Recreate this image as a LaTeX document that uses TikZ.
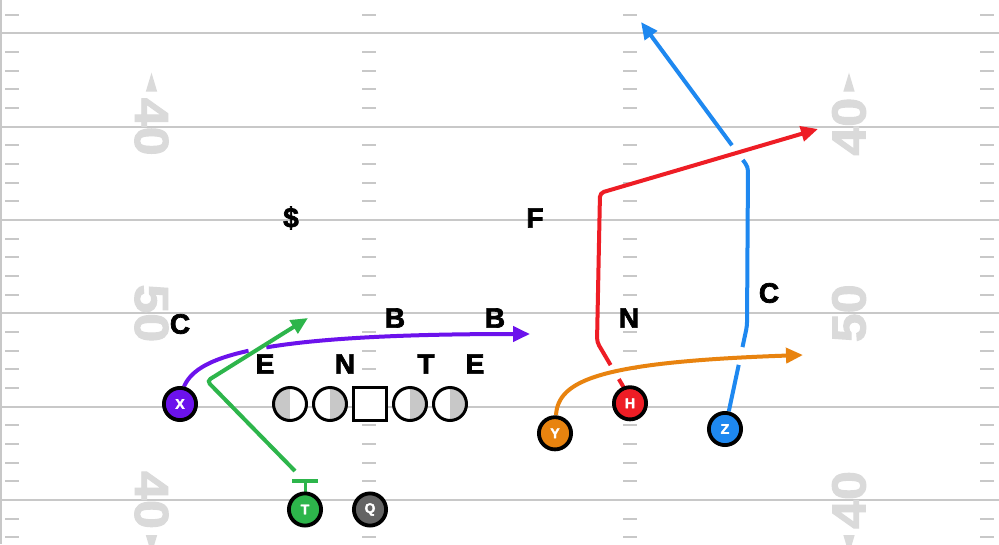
\documentclass[tikz,border=0pt]{standalone}
\usepackage{fontspec}
\setmainfont{Liberation Sans}
\newfontfamily\heavyfont{Liberation Sans}[BoldFeatures={FakeBold=2.5}]
\newfontfamily\numfont{Liberation Sans}[BoldFeatures={FakeBold=2}]
\usetikzlibrary{arrows.meta,calc}
\definecolor{yard}{HTML}{C8C8C8}
\definecolor{numc}{HTML}{DADADA}
\definecolor{halfgray}{HTML}{C8C8C8}
\definecolor{cpurple}{HTML}{6C12EC}
\definecolor{cgreen}{HTML}{2DB54B}
\definecolor{cgray}{HTML}{646464}
\definecolor{corange}{HTML}{E8830F}
\definecolor{cred}{HTML}{EE1D25}
\definecolor{cblue}{HTML}{1E88F0}
\tikzset{
  yardline/.style={draw=yard, line width=2pt},
  hashmark/.style={draw=yard, line width=2pt},
  fieldnum/.style={text=numc, font=\numfont\fontsize{52}{52}\selectfont\bfseries, inner sep=0pt, xscale=0.92},
  numarrow/.style={fill=numc, draw=none},
  player/.style={circle, draw=black, line width=3.8pt, minimum size=32.2pt, inner sep=0pt,
    text=white, font=\heavyfont\fontsize{14}{14}\selectfont\bfseries},
  lineman/.style={circle, draw=black, line width=3pt, minimum size=33pt, inner sep=0pt, fill=white},
  lhalf/.style={lineman, path picture={\fill[halfgray] (path picture bounding box.south west) rectangle (path picture bounding box.north);}},
  rhalf/.style={lineman, path picture={\fill[halfgray] (path picture bounding box.south) rectangle (path picture bounding box.north east);}},
  cbox/.style={rectangle, draw=black, line width=3pt, minimum size=33pt, inner sep=0pt, fill=white},
  deflabel/.style={font=\heavyfont\fontsize{28}{28}\selectfont\bfseries, inner sep=0pt, text=black},
  route/.style={line width=4pt, rounded corners=4pt, -{Triangle[length=17pt,width=15pt]}},
  gapcut/.style={draw=white, line width=6.5pt},
}
\begin{document}
\begin{tikzpicture}[x=1pt,y=-1pt]
\useasboundingbox (0,0) rectangle (999,544);
\clip (0,0) rectangle (999,544);
\fill[white] (0,0) rectangle (999,544);

% yard lines and sideline
\foreach \yy in {33.333,126.667,220,313.333,406.667,500}
  \draw[yardline] (0,\yy) -- (999,\yy);
\draw[yardline] (1,0) -- (1,544);

% hash marks
\foreach \k in {-1,1,2,3,4,6,7,8,9,11,12,13,14,16,17,18,19,21,22,23,24,26,27}
  \foreach \xa in {5,362,623,980}
    \draw[hashmark] (\xa,{33.333+18.6667*\k}) -- ++(14,0);

% field numbers
\node[fieldnum, rotate=-90] (nl1) at (151.5,126.7) {40};
\node[fieldnum, rotate=-90] (nl2) at (151.5,313.3) {50};
\node[fieldnum, rotate=-90] (nl3) at (151.5,500) {40};
\node[fieldnum, rotate=90] (nr1) at (849,126.7) {40};
\node[fieldnum, rotate=90] (nr2) at (849,313.3) {50};
\node[fieldnum, rotate=90] (nr3) at (849,500) {40};
\fill[numarrow] (145.8,91.7) -- (157.2,91.7) -- (151.5,72.7) -- cycle;
\fill[numarrow] (145.8,535) -- (157.2,535) -- (151.5,554) -- cycle;
\fill[numarrow] (843.3,91.7) -- (854.7,91.7) -- (849,72.7) -- cycle;
\fill[numarrow] (843.3,535) -- (854.7,535) -- (849,554) -- cycle;

% offensive line
\node[lhalf] (lt) at (290,404) {};
\node[rhalf] (lg) at (330,404) {};
\node[cbox] (cc) at (370,404) {};
\node[rhalf] (rg) at (410,404) {};
\node[rhalf] (rt) at (450,404) {};

% defensive labels
\node[deflabel] (dS) at (291,218) {\$};
\node[deflabel] (dF) at (535,218) {F};
\node[deflabel] (dC1) at (180,324) {C};
\node[deflabel] (dB1) at (395,318) {B};
\node[deflabel] (dB2) at (495,318) {B};
\node[deflabel] (dN1) at (629,318) {N};
\node[deflabel] (dC2) at (769,293) {C};
\node[deflabel] (dE1) at (265,364) {E};
\node[deflabel] (dN2) at (345,364) {N};
\node[deflabel] (dT) at (426,364) {T};
\node[deflabel] (dE2) at (475,364) {E};

% player positions
\path (180,404) coordinate (Xc) (305,509.5) coordinate (Tc) (370,509.5) coordinate (Qc)
      (555,433.3) coordinate (Yc) (630,403.3) coordinate (Hc) (725,429) coordinate (Zc);

% route coordinates
\coordinate (pS) at (184,386.5);
\coordinate (pA) at (530,334);
\coordinate (gS) at (295,471);
\coordinate (g1) at (207,381);
\coordinate (gA) at (308,318);
\coordinate (rS) at (623.5,387);
\coordinate (r1) at (597,342);
\coordinate (r2) at (600,193);
\coordinate (rA) at (818,129);
\coordinate (bS) at (728.8,411.3);
\coordinate (b1) at (747,326);
\coordinate (b2) at (748,167);
\coordinate (bA) at (641,22);
\coordinate (oS) at (556,415.3);
\coordinate (oA) at (803,355);

% purple (X)
\draw[route, cpurple] (pS) .. controls (196,360) and (240,334) .. (pA);
% blue (Z)
\draw[route, cblue] (bS) -- (b1) -- (b2) -- (bA);
% gaps under green and red
\draw[gapcut] (248.7,351.3) -- (266.3,347.7);
\draw[gapcut] (742.7,159.8) -- (732.1,145.4);
% green (T)
\draw[route, cgreen] (gS) -- (g1) -- (gA);
\draw[cgreen, line width=4pt] (292,481) coordinate (tb1) -- (318,481) coordinate (tb2);
\draw[cgreen, line width=3pt] (305,481) coordinate (tbm) -- (305,492) coordinate (tbe);
% red (H)
\draw[route, cred] (rS) -- (r1) -- (r2) -- (rA);
% gaps under orange
\draw[gapcut] (610,365.6) -- (618,379.4);
\draw[gapcut] (738.9,364.8) -- (742.5,347.2);
% orange (Y)
\draw[route, corange] (oS) .. controls (558,380) and (600,362) .. (oA);

% players on top
\node[player, fill=cpurple] (X) at (Xc) {X};
\node[player, fill=cgreen] (T) at (Tc) {T};
\node[player, fill=cgray] (Q) at (Qc) {Q};
\node[player, fill=corange] (Y) at (Yc) {Y};
\node[player, fill=cred] (H) at (Hc) {H};
\node[player, fill=cblue] (Z) at (Zc) {Z};
\end{tikzpicture}
\end{document}
